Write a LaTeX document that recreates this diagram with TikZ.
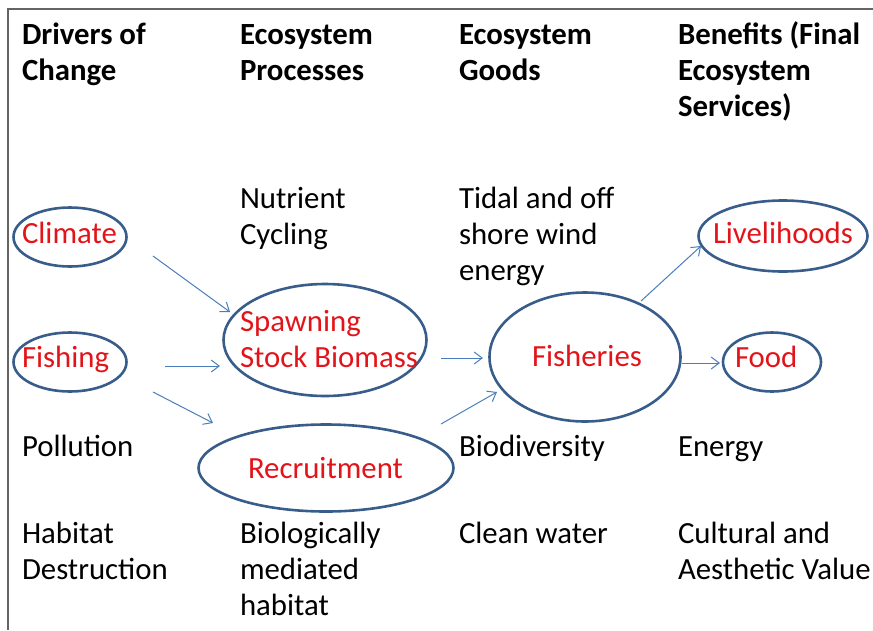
\documentclass[tikz,border=0pt]{standalone}
\usepackage{fontspec}
\setmainfont{Carlito}
\usetikzlibrary{shapes.geometric,arrows.meta}
\definecolor{ovalblue}{RGB}{56,93,138}
\definecolor{arrowblue}{RGB}{74,126,187}
\definecolor{txtred}{RGB}{226,20,26}
\definecolor{framegray}{RGB}{100,100,100}
\begin{document}
\begin{tikzpicture}[x=1pt,y=-1pt,
  every node/.style={inner sep=0pt, outer sep=0pt, font=\fontsize{30.8}{36}\selectfont},
  head/.style={font=\fontsize{30.8}{36}\selectfont\bfseries, align=left, anchor=base west},
  plain/.style={align=left, anchor=base west},
  redtxt/.style={text=txtred, align=left, anchor=base west},
  oval/.style={draw=ovalblue, line width=2.6pt, ellipse, inner sep=0pt},
  link/.style={draw=arrowblue, line width=1pt, -{Straight Barb[length=8pt,width=12pt]}}
]
\useasboundingbox (0,0) rectangle (873,630);
\draw[framegray, line width=2pt] (873,9) -- (8,9) -- (8,630);

% headers (anchor = baseline of last line)
\node[head] (h1) at (22,80) {Drivers of\\Change};
\node[head] (h2) at (240,80) {Ecosystem\\Processes};
\node[head] (h3) at (459,80) {Ecosystem\\Goods};
\node[head] (h4) at (678,116) {Benefits (Final\\Ecosystem\\Services)};

% plain entries
\node[plain] (nut) at (240,244) {Nutrient\\Cycling};
\node[plain] (tidal) at (459,280) {Tidal and off\\shore wind\\energy};
\node[plain] (poll) at (22,456) {Pollution};
\node[plain] (biod) at (459,456) {Biodiversity};
\node[plain] (energy) at (678,456) {Energy};
\node[plain] (hab) at (22,579) {Habitat\\Destruction};
\node[plain] (biol) at (240,615) {Biologically\\mediated\\habitat};
\node[plain] (clean) at (459,543) {Clean water};
\node[plain] (cult) at (678,579) {Cultural and\\Aesthetic Value};

% ovals
\node[oval, minimum width=113pt, minimum height=59pt] (climate) at (70,237) {};
\node[oval, minimum width=113pt, minimum height=59pt] (fishing) at (70,362) {};
\node[oval, minimum width=203pt, minimum height=112pt] (spawn) at (325,340) {};
\node[oval, minimum width=255pt, minimum height=87pt] (recruit) at (326,468) {};
\node[oval, minimum width=191pt, minimum height=129pt] (fisheries) at (585,357) {};
\node[oval, minimum width=169pt, minimum height=71pt] (liveli) at (783,236) {};
\node[oval, minimum width=98pt, minimum height=59pt] (food) at (772,362) {};

% red labels
\node[redtxt] (climatet) at (22,243) {Climate};
\node[redtxt] (fishingt) at (22,367) {Fishing};
\node[redtxt] (spawnt) at (240,367) {Spawning\\Stock Biomass};
\node[redtxt] (recruitt) at (248,478) {Recruitment};
\node[redtxt] (fisheriest) at (532,366) {Fisheries};
\node[redtxt] (livelit) at (713,243) {Livelihoods};
\node[redtxt] (foodt) at (735,367) {Food};

% arrow ends
\coordinate (c2s) at (153,256); \coordinate (c2e) at (230,312);
\coordinate (f2s) at (165,366); \coordinate (f2e) at (220,366);
\coordinate (f2r) at (153,392); \coordinate (f2re) at (213,423);
\coordinate (s2f) at (441,358); \coordinate (s2fe) at (483,358);
\coordinate (r2f) at (441,424); \coordinate (r2fe) at (497,392);
\coordinate (f2l) at (641,301); \coordinate (f2le) at (701,246);
\coordinate (f2fd) at (682,363); \coordinate (f2fde) at (720,363);

\draw[link] (c2s) -- (c2e);
\draw[link] (f2s) -- (f2e);
\draw[link] (f2r) -- (f2re);
\draw[link] (s2f) -- (s2fe);
\draw[link] (r2f) -- (r2fe);
\draw[link] (f2l) -- (f2le);
\draw[link] (f2fd) -- (f2fde);
\end{tikzpicture}
\end{document}
